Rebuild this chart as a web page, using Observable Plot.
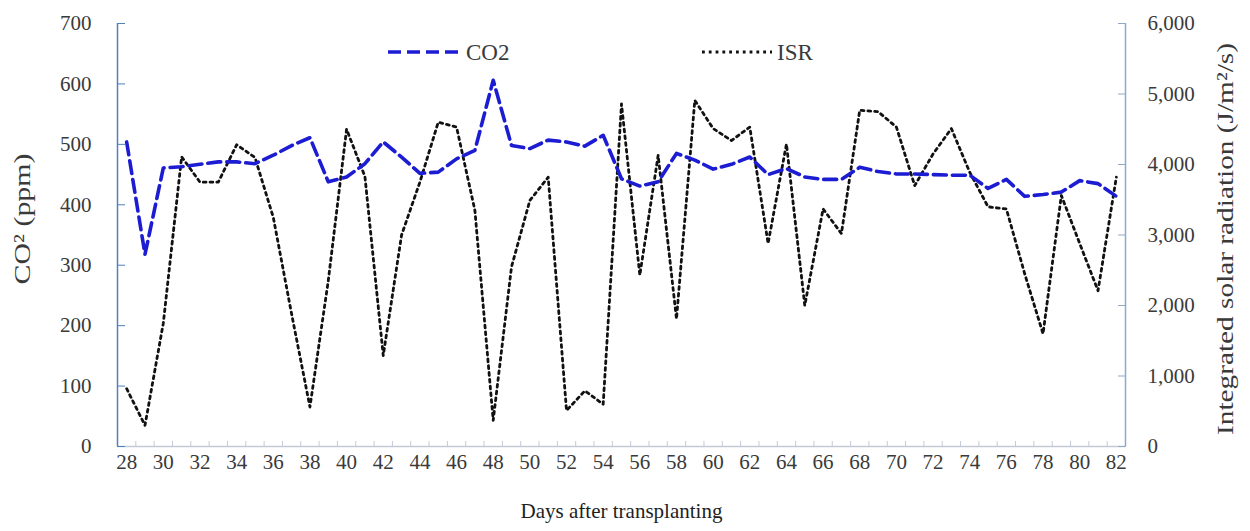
<!DOCTYPE html>
<html>
<head>
<meta charset="utf-8">
<script src="https://cdn.jsdelivr.net/npm/d3@7"></script>
<script src="https://cdn.jsdelivr.net/npm/@observablehq/plot@0.6"></script>
<style>
  body { margin: 0; background: #fff; }
  #chart { position: relative; width: 1250px; height: 531px; }
  #legend { position: absolute; left: 386px; top: 37px; width: 460px; height: 30px; }
</style>
</head>
<body>
<div id="chart"></div>
<script>
// Days after transplanting
const days = [28, 29, 30, 31, 32, 33, 34, 35, 36, 37, 38, 39, 40, 41, 42, 43, 44, 45, 46, 47,
              48, 49, 50, 51, 52, 53, 54, 55, 56, 57, 58, 59, 60, 61, 62, 63, 64, 65, 66, 67,
              68, 69, 70, 71, 72, 73, 74, 75, 76, 77, 78, 79, 80, 81, 82];

// CO2 concentration (ppm), left axis
const co2 = [504, 318, 461, 463, 467, 471, 471, 468, 482, 498, 511, 438, 446, 468, 504, 479, 452, 454, 476, 490,
             606, 498, 493, 507, 504, 497, 515, 443, 431, 438, 485, 474, 459, 467, 479, 450, 460, 446, 442, 442,
             462, 455, 451, 451, 450, 449, 449, 427, 442, 414, 417, 421, 440, 435, 414];

// Integrated solar radiation (J/m2/s), right axis
const isr = [820, 300, 1750, 4110, 3750, 3750, 4280, 4100, 3250, 1880, 560, 2350, 4500, 3830, 1290, 3000, 3750, 4600, 4530, 3350,
             370, 2550, 3490, 3820, 510, 790, 600, 4860, 2430, 4130, 1810, 4910, 4510, 4340, 4530, 2880, 4290, 2000, 3370, 3020,
             4770, 4750, 4530, 3700, 4150, 4510, 3890, 3400, 3370, 2450, 1600, 3560, 2880, 2210, 3820];

// Axis ticks
const co2Ticks = [0, 100, 200, 300, 400, 500, 600, 700];
const isrTicks = [0, 1000, 2000, 3000, 4000, 5000, 6000];
const dayLabels = [28, 30, 32, 34, 36, 38, 40, 42, 44, 46, 48, 50, 52, 54, 56, 58, 60, 62, 64, 66, 68, 70, 72, 74, 76, 78, 80, 82];

// Axis titles
const xTitle = "Days after transplanting";
const leftTitle = "CO² (ppm)";
const rightTitle = "Integrated solar radiation (J/m²/s)";

// The right axis shares the left scale: ISR is mapped onto the ppm range
const co2Max = co2Ticks[co2Ticks.length - 1];
const isrMax = isrTicks[isrTicks.length - 1];
const k = co2Max / isrMax;

const rows = days.map((d, i) => ({day: d, co2: co2[i], isr: isr[i]}));

// Category axis: each day occupies one unit, bounded by half-day edges
const xDomain = [days[0] - 0.5, days[days.length - 1] + 0.5];
const boundaries = [...days.map(d => d - 0.5), days[days.length - 1] + 0.5];

const serif = "'Liberation Serif', 'Times New Roman', serif";
const textColor = "#3a3a3a";
const titleColor = "#1e1e1e";
const leftAxisColor = "#4f81bd";
const rightAxisColor = "#8fa9c9";
const bottomAxisColor = "#c3cad6";
const co2Color = "#1c1cd2";
const isrColor = "#111";
const co2Dash = "13,6";
const isrDash = "2.8,4";
const fmt = d3.format(",");

const chart = Plot.plot({
  width: 1250,
  height: 531,
  marginLeft: 117,
  marginRight: 125,
  marginTop: 23,
  marginBottom: 85,
  style: {fontFamily: serif, fontSize: "21px", color: textColor, background: "#fff"},
  x: {domain: xDomain},
  y: {domain: [0, co2Max]},
  marks: [
    // bottom axis: line, minor ticks at category edges, labels every other day
    Plot.ruleY([0], {stroke: bottomAxisColor, strokeWidth: 1.5}),
    Plot.axisX(boundaries, {tickSize: -5, text: null, stroke: bottomAxisColor, label: null}),
    Plot.axisX(dayLabels, {tickSize: 0, tickPadding: 8, tickFormat: d => String(d), fontSize: 21, fill: textColor, label: null}),

    // left axis
    Plot.ruleX([xDomain[0]], {stroke: leftAxisColor, strokeWidth: 1.5}),
    Plot.axisY(co2Ticks, {anchor: "left", tickSize: -8, text: null, stroke: leftAxisColor, label: null}),
    Plot.axisY(co2Ticks, {anchor: "left", tickSize: 0, tickPadding: 26, fontSize: 21, fill: textColor, label: null}),

    // right axis
    Plot.ruleX([xDomain[1]], {stroke: rightAxisColor, strokeWidth: 1.5}),
    Plot.axisY(isrTicks.map(v => v * k), {anchor: "right", tickSize: -8, text: null, stroke: rightAxisColor, label: null}),
    Plot.axisY(isrTicks.map(v => v * k), {anchor: "right", tickSize: 0, tickPadding: 22, fontSize: 21, fill: textColor,
      tickFormat: d => fmt(Math.round(d / k)), label: null}),

    // axis titles
    Plot.text([xTitle], {text: d => d, frameAnchor: "bottom", dy: 71, fontSize: 21, fill: titleColor, fontWeight: 500}),
    Plot.text([leftTitle], {text: d => d, frameAnchor: "left", textAnchor: "middle", rotate: -90, dx: -95, dy: -16, fontSize: 23, fill: textColor}),
    Plot.text([rightTitle], {text: d => d, frameAnchor: "right", textAnchor: "middle", rotate: -90, dx: 100, dy: 4, fontSize: 23, fill: textColor}),

    // series
    Plot.line(rows, {x: "day", y: d => d.isr * k, stroke: isrColor, strokeWidth: 2.8, strokeDasharray: isrDash}),
    Plot.line(rows, {x: "day", y: "co2", stroke: co2Color, strokeWidth: 3.6, strokeDasharray: co2Dash})
  ]
});

// the vertical titles are set in a tall, narrow letterform
const stretch = {[leftTitle]: 131, [rightTitle]: 392};
d3.select(chart).selectAll("text").each(function () {
  const len = stretch[this.textContent];
  if (len) {
    this.setAttribute("textLength", len);
    this.setAttribute("lengthAdjust", "spacingAndGlyphs");
  }
});

const holder = document.getElementById("chart");
holder.appendChild(chart);

// legend drawn over the top of the plot area
const legend = document.createElement("div");
legend.id = "legend";
legend.innerHTML = `
<svg width="460" height="30" style="position:absolute;left:0;top:0;overflow:visible">
  <line x1="2" x2="76" y1="15" y2="15" stroke="${co2Color}" stroke-width="3.6" stroke-dasharray="${co2Dash}"/>
  <text x="80" y="23" font-family="${serif}" font-size="23" fill="${textColor}">CO2</text>
  <line x1="316" x2="386" y1="15" y2="15" stroke="${isrColor}" stroke-width="2.8" stroke-dasharray="${isrDash}"/>
  <text x="391" y="23" font-family="${serif}" font-size="23" fill="${textColor}">ISR</text>
</svg>`;
holder.appendChild(legend);
</script>
</body>
</html>
